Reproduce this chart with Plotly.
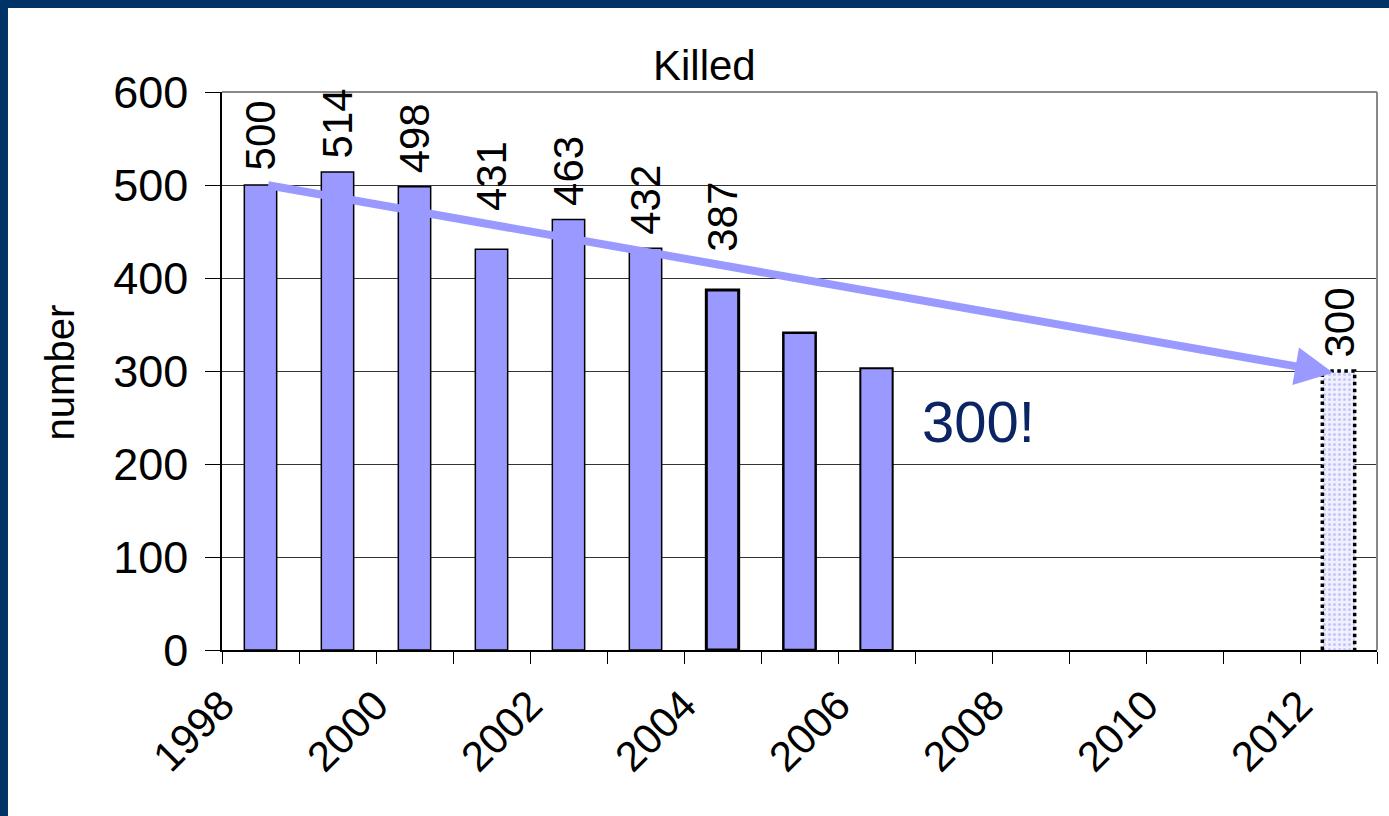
import plotly.graph_objects as go

# ---- data ----
years = [1998, 1999, 2000, 2001, 2002, 2003, 2004, 2005, 2006]
killed = [500, 514, 498, 431, 463, 432, 387, 341, 303]
labels = ["500", "514", "498", "431", "463", "432", "387", "", ""]
target_year = [2012]
target_value = [300]
target_label = ["300"]
tick_years = list(range(1998, 2014))
tick_text = [str(y) if (y % 2 == 0 and y <= 2012) else "" for y in tick_years]

BAR_COLOR = "#9999FF"
FONT = "Liberation Sans, Arial, sans-serif"
OFFSET = 0.29
WIDTH = 0.42

# trend arrow: from the first bar to the target
arrow_x0, arrow_y0 = years[0] + 0.58, killed[0]
arrow_x1, arrow_y1 = target_year[0] + 0.43, target_value[0] - 2


def arrow_y_at(x):
    return arrow_y0 + (arrow_y1 - arrow_y0) * (x - arrow_x0) / (arrow_x1 - arrow_x0)


fig = go.Figure()

fig.add_trace(go.Bar(
    x=years, y=killed,
    offset=OFFSET, width=WIDTH,
    marker=dict(color=BAR_COLOR,
                line=dict(color="black", width=[1.5, 1.5, 1.5, 1.5, 1.5, 1.5, 3, 2.5, 2])),
    showlegend=False,
))

fig.add_trace(go.Bar(
    x=target_year, y=target_value,
    offset=OFFSET, width=WIDTH,
    marker=dict(color="white",
                line=dict(color="rgba(0,0,0,0)", width=0),
                pattern=dict(shape=".", fgcolor=BAR_COLOR, bgcolor="#F0F0FF",
                             size=5, solidity=0.3)),
    showlegend=False,
))

# dotted outline of the target bar, derived from the target data
tx0 = target_year[0] + OFFSET
tx1 = target_year[0] + OFFSET + WIDTH
fig.add_trace(go.Scatter(
    x=[tx0, tx0, tx1, tx1], y=[0, target_value[0], target_value[0], 0],
    mode="lines", line=dict(color="black", width=3.5, dash="dot"),
    showlegend=False, hoverinfo="skip",
))

annotations = []
for xv, yv, t in list(zip(years, killed, labels)) + list(zip(target_year, target_value, target_label)):
    if t:
        cx = xv + OFFSET + WIDTH / 2
        base = yv if xv >= target_year[0] else max(yv, arrow_y_at(cx))
        annotations.append(dict(
            text=t, xref="x", yref="y", x=cx, y=base,
            xanchor="center", yanchor="bottom", yshift=11, textangle=-90,
            showarrow=False, font=dict(size=42, color="black")))

annotations += [
    dict(text="Killed", xref="paper", yref="paper", x=0.418, y=1.048,
         xanchor="center", yanchor="middle", showarrow=False,
         font=dict(size=42, color="black")),
    dict(text="number", xref="paper", yref="paper", x=-0.140, y=0.498,
         xanchor="center", yanchor="middle", textangle=-90, showarrow=False,
         font=dict(size=40, color="black")),
    dict(text="300!", xref="x", yref="y", x=2007.06, y=246,
         xanchor="left", yanchor="middle", showarrow=False,
         font=dict(size=58, color="#0A2464")),
    dict(text="", xref="x", yref="y", x=arrow_x1, y=arrow_y1,
         axref="x", ayref="y", ax=arrow_x0, ay=arrow_y0,
         showarrow=True, arrowhead=2, arrowsize=0.95, arrowwidth=8,
         arrowcolor=BAR_COLOR, standoff=0, startstandoff=0),
]

fig.update_layout(
    width=1389, height=816,
    margin=dict(l=222, r=12, t=92, b=166, autoexpand=False),
    paper_bgcolor="#003366", plot_bgcolor="white",
    barmode="overlay",
    font=dict(family=FONT, color="black"),
    xaxis=dict(range=[1998, 2013], tickmode="array", tickvals=tick_years, ticktext=tick_text,
               tickangle=-45, tickfont=dict(size=42), ticks="outside", ticklen=12,
               tickcolor="black", showline=True, linecolor="black", linewidth=1.5,
               showgrid=False, zeroline=False, automargin=False),
    yaxis=dict(range=[0, 600], tickvals=[0, 100, 200, 300, 400, 500, 600],
               tickfont=dict(size=45), ticks="outside", ticklen=15, tickcolor="black",
               ticklabelstandoff=8,
               showline=True, linecolor="black", linewidth=1.5,
               showgrid=True, gridcolor="#333333", gridwidth=1, zeroline=False,
               automargin=False),
    shapes=[
        dict(type="rect", xref="paper", yref="paper", x0=-0.1853, x1=1.1, y0=-0.4, y1=1.1505,
             fillcolor="white", line=dict(width=0), layer="below"),
        dict(type="line", xref="x domain", yref="y domain", x0=0, x1=1, y0=1, y1=1,
             line=dict(color="#888888", width=2), layer="above"),
        dict(type="line", xref="x domain", yref="y domain", x0=1, x1=1, y0=0, y1=1,
             line=dict(color="#888888", width=2), layer="above"),
    ],
    annotations=annotations,
)

fig.write_html("out.html", config={"displayModeBar": False},
               post_script="document.body.style.margin='0';document.body.style.overflow='hidden';")
